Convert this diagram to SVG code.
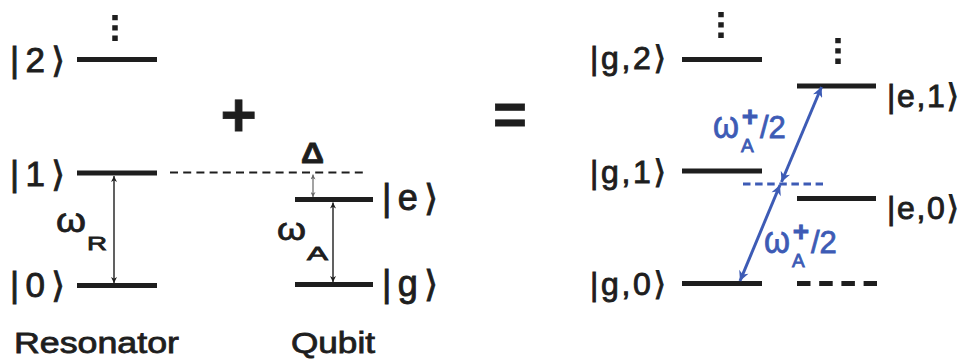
<svg xmlns="http://www.w3.org/2000/svg" width="963" height="360" viewBox="0 0 963 360">
<style>
  .lvl { stroke:#1e1e1e; stroke-width:5; fill:none; }
  .dots { stroke:#1e1e1e; stroke-width:5.5; stroke-dasharray:5.3 5; fill:none; }
  .ket { font-family:"Liberation Sans","DejaVu Sans",sans-serif; fill:#1e1e1e; stroke:#1e1e1e; stroke-width:0.9; }
  .lbl { font-family:"Liberation Sans","DejaVu Sans",sans-serif; fill:#1e1e1e; stroke:#1e1e1e; stroke-width:0.8; }
  .blue { font-family:"Liberation Sans","DejaVu Sans",sans-serif; fill:#3d5bb5; stroke:#3d5bb5; stroke-width:0.8; }
  .arr { stroke:#1e1e1e; stroke-width:1.4; fill:none; marker-start:url(#ah); marker-end:url(#ah); }
  .arrsm { stroke:#666; stroke-width:1.2; fill:none; marker-start:url(#ahs); marker-end:url(#ahs); }
  .arrb { stroke:#3d5bb5; stroke-width:3; fill:none; marker-start:url(#ahb); marker-end:url(#ahb); }
</style>
<defs>
  <marker id="ah" viewBox="0 0 10 10" refX="10" refY="5" markerWidth="8" markerHeight="6" markerUnits="userSpaceOnUse" orient="auto-start-reverse">
    <path d="M0,0 L10,5 L0,10 L3,5 z" fill="#1e1e1e"/>
  </marker>
  <marker id="ahs" viewBox="0 0 10 10" refX="10" refY="5" markerWidth="5" markerHeight="5" markerUnits="userSpaceOnUse" orient="auto-start-reverse">
    <path d="M0,0 L10,5 L0,10 L3,5 z" fill="#666"/>
  </marker>
  <marker id="ahb" viewBox="0 0 10 10" refX="10" refY="5" markerWidth="15" markerHeight="10" markerUnits="userSpaceOnUse" orient="auto-start-reverse">
    <path d="M0,0 L10,5 L0,10 L3,5 z" fill="#3d5bb5"/>
  </marker>
</defs>

<!-- Resonator levels -->
<g id="res-2">
  <line class="lvl" x1="77" y1="59.5" x2="157" y2="59.5"/>
  <line class="dots" x1="115" y1="15" x2="115" y2="41"/>
  <text class="ket" x="10" y="72" font-size="35" textLength="55" lengthAdjust="spacing">|2⟩</text>
</g>
<g id="res-1">
  <line class="lvl" x1="77" y1="173" x2="157" y2="173"/>
  <text class="ket" x="10" y="186" font-size="35" textLength="55" lengthAdjust="spacing">|1⟩</text>
</g>
<g id="res-0">
  <line class="lvl" x1="77" y1="285.5" x2="157" y2="285.5"/>
  <text class="ket" x="10" y="297" font-size="35" textLength="55" lengthAdjust="spacing">|0⟩</text>
</g>
<g id="res-label">
  <text class="lbl" x="14" y="353" font-size="29" textLength="165" lengthAdjust="spacingAndGlyphs">Resonator</text>
</g>

<!-- plus -->
<g id="plus">
  <text class="lbl" x="238.5" y="136" font-size="62" font-weight="bold" text-anchor="middle" stroke-width="0">+</text>
</g>

<!-- Qubit levels -->
<g id="qb-e">
  <line class="lvl" x1="295" y1="199.5" x2="373" y2="199.5"/>
  <text class="ket" x="382" y="210" font-size="36" textLength="56" lengthAdjust="spacing">|e⟩</text>
</g>
<g id="qb-g">
  <line class="lvl" x1="295" y1="284.5" x2="373" y2="284.5"/>
  <text class="ket" x="382" y="296" font-size="36" textLength="56" lengthAdjust="spacing">|g⟩</text>
</g>
<g id="qb-label">
  <text class="lbl" x="291" y="353" font-size="29" textLength="84" lengthAdjust="spacingAndGlyphs">Qubit</text>
</g>

<!-- equals -->
<g id="equals">
  <text class="lbl" x="510" y="134" font-size="58" font-weight="bold" text-anchor="middle" stroke-width="0">=</text>
</g>

<!-- Dressed levels -->
<g id="g2">
  <line class="lvl" x1="682" y1="59.5" x2="762" y2="59.5"/>
  <line class="dots" x1="721" y1="12" x2="721" y2="38"/>
  <text class="ket" x="590" y="69" font-size="32" textLength="76" lengthAdjust="spacing">|g,2⟩</text>
</g>
<g id="g1">
  <line class="lvl" x1="682" y1="171" x2="762" y2="171"/>
  <text class="ket" x="590" y="183" font-size="32" textLength="76" lengthAdjust="spacing">|g,1⟩</text>
</g>
<g id="g0">
  <line class="lvl" x1="682" y1="283.5" x2="762" y2="283.5"/>
  <text class="ket" x="590" y="295" font-size="32" textLength="76" lengthAdjust="spacing">|g,0⟩</text>
</g>
<g id="e1">
  <line class="lvl" x1="797" y1="86" x2="876" y2="86"/>
  <line class="dots" x1="838" y1="38" x2="838" y2="64"/>
  <text class="ket" x="887" y="107" font-size="32" textLength="72" lengthAdjust="spacing">|e,1⟩</text>
</g>
<g id="e0">
  <line class="lvl" x1="797" y1="198.5" x2="876" y2="198.5"/>
  <text class="ket" x="887" y="219" font-size="32" textLength="72" lengthAdjust="spacing">|e,0⟩</text>
</g>
<g id="e-1">
  <line class="lvl" x1="797" y1="283.5" x2="877" y2="283.5" stroke-dasharray="13.5 8.7"/>
</g>

<!-- connectors -->
<g id="connectors">
  <line x1="170" y1="172.5" x2="368" y2="172.5" stroke="#1e1e1e" stroke-width="2.2" stroke-dasharray="8 5.2"/>
  <line class="arr" x1="114" y1="176" x2="114" y2="283"/>
  <line class="arr" x1="333" y1="202.5" x2="333" y2="282"/>
  <line class="arrsm" x1="313" y1="174.5" x2="313" y2="197"/>
  <line x1="743" y1="184" x2="823" y2="184" stroke="#3d5bb5" stroke-width="3" stroke-dasharray="7.5 4.6"/>
  <line class="arrb" x1="821.5" y1="87" x2="781.5" y2="182"/>
  <line class="arrb" x1="780" y1="185" x2="740" y2="281"/>
</g>

<!-- labels -->
<g id="labels">
  <text class="lbl" x="56" y="232" font-size="34" textLength="30" lengthAdjust="spacingAndGlyphs">ω</text>
  <text class="lbl" x="87" y="250" font-size="19" textLength="20" lengthAdjust="spacingAndGlyphs">R</text>
  <text class="lbl" x="277" y="240" font-size="32" textLength="29" lengthAdjust="spacingAndGlyphs">ω</text>
  <text class="lbl" x="307" y="260" font-size="19" textLength="21" lengthAdjust="spacingAndGlyphs">A</text>
  <text class="lbl" x="301" y="163" font-size="29" font-weight="bold" textLength="23" lengthAdjust="spacingAndGlyphs" stroke-width="0.3">Δ</text>

  <text class="blue" x="713" y="138" font-size="38" textLength="26" lengthAdjust="spacingAndGlyphs">ω</text>
  <text class="blue" x="741" y="152" font-size="19">A</text>
  <text class="blue" x="750" y="126" font-size="28" font-weight="bold" text-anchor="middle" stroke-width="0">+</text>
  <text class="blue" x="760" y="138" font-size="31">/2</text>

  <text class="blue" x="764" y="253" font-size="38" textLength="26" lengthAdjust="spacingAndGlyphs">ω</text>
  <text class="blue" x="792" y="267" font-size="19">A</text>
  <text class="blue" x="801" y="241" font-size="28" font-weight="bold" text-anchor="middle" stroke-width="0">+</text>
  <text class="blue" x="811" y="253" font-size="31">/2</text>
</g>
</svg>
